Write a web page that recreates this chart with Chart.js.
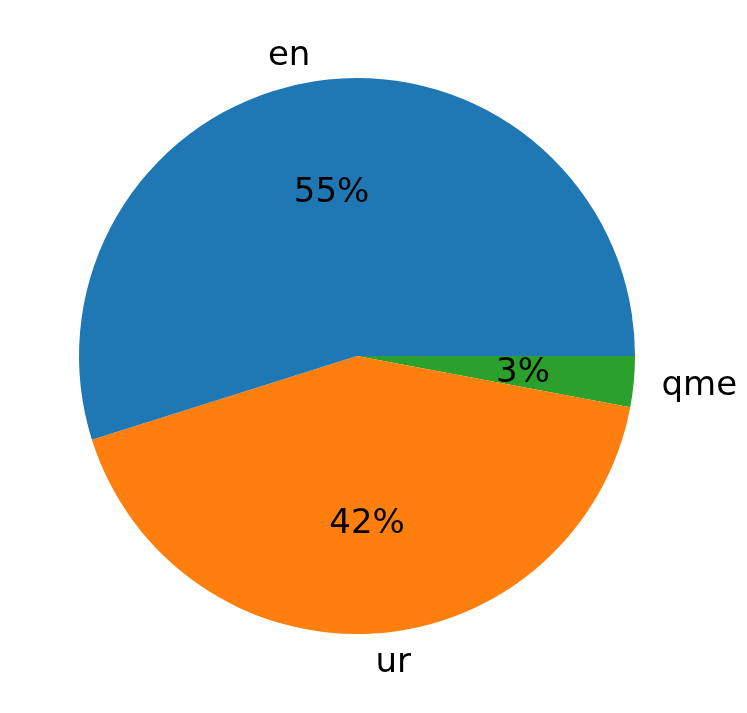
<!DOCTYPE html>
<html>
<head>
<meta charset="utf-8">
<script src="https://cdn.jsdelivr.net/npm/chart.js@4"></script>
<style>
  html, body { margin: 0; padding: 0; background: #fff; }
  #wrap { width: 747px; height: 713px; }
</style>
</head>
<body>
<div id="wrap"><canvas id="myChart" width="747" height="713"></canvas></div>
<script>
// order is reversed because Chart.js goes clockwise, matplotlib counterclockwise
var labels = ['qme', 'ur', 'en'];
var values = [10, 143, 186];
var colors = ['#2ca02c', '#ff7f0e', '#1f77b4'];

// draws the outside labels and the percentages the way matplotlib places them
var pieText = {
  id: 'pieText',
  afterDatasetsDraw: function(chart) {
    var ctx = chart.ctx;
    var meta = chart.getDatasetMeta(0);
    var total = values.reduce(function(a, b) { return a + b; }, 0);
    ctx.save();
    ctx.fillStyle = '#000';
    ctx.font = '34px "DejaVu Sans"';
    ctx.textBaseline = 'middle';
    var dy = 2; // small nudge so the text sits like matplotlib's va=center
    meta.data.forEach(function(arc, i) {
      var mid = (arc.startAngle + arc.endAngle) / 2;
      var r = arc.outerRadius;
      var cx = Math.cos(mid), cy = Math.sin(mid);
      // label at 1.1 r
      ctx.textAlign = cx < 0 ? 'right' : 'left';
      ctx.fillText(labels[i], arc.x + cx * r * 1.1, arc.y + cy * r * 1.1 + dy);
      // percent at 0.6 r
      ctx.textAlign = 'center';
      var pct = Math.round(values[i] / total * 100) + '%';
      ctx.fillText(pct, arc.x + cx * r * 0.6, arc.y + cy * r * 0.6 + dy);
    });
    ctx.restore();
  }
};

var ctx = document.getElementById('myChart').getContext('2d');
var myChart = new Chart(ctx, {
  type: 'pie',
  data: {
    labels: labels,
    datasets: [{
      data: values,
      backgroundColor: colors,
      borderWidth: 0
    }]
  },
  options: {
    responsive: false,
    animation: false,
    rotation: 90,
    layout: { padding: { left: 79, right: 112, top: 78, bottom: 79 } },
    plugins: {
      legend: { display: false },
      tooltip: { enabled: false }
    }
  },
  plugins: [pieText]
});
</script>
</body>
</html>
